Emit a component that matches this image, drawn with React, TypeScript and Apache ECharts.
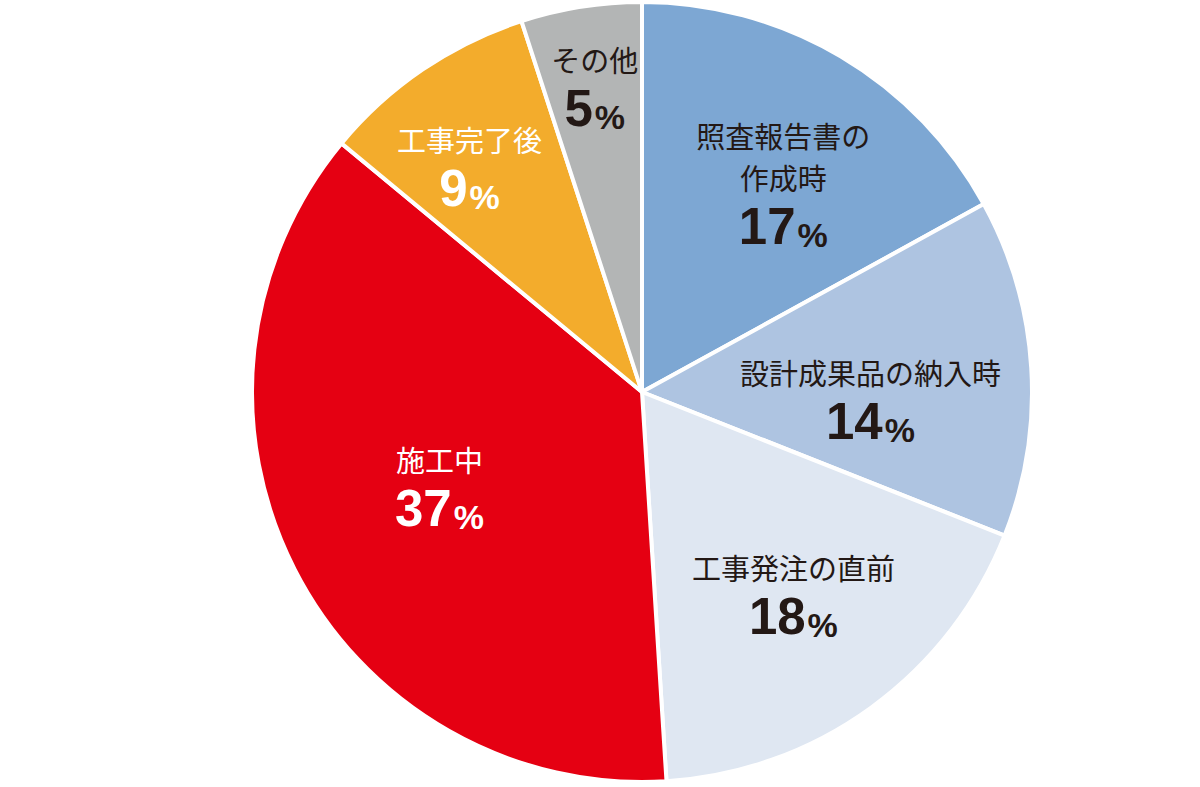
import React, { useEffect, useRef } from "react";
import * as echarts from "echarts";

const categories = ["照査報告書の\n作成時", "設計成果品の納入時", "工事発注の直前", "施工中", "工事完了後", "その他"];
const values = [17, 14, 18, 37, 9, 5];
const colors = ["#7DA7D3", "#AEC4E1", "#DFE7F2", "#E50012", "#F3AC2C", "#B3B5B5"];
const labelColors = ["#231815", "#231815", "#231815", "#ffffff", "#ffffff", "#231815"];
// label placement: [fraction of radius, angle in degrees clockwise from top]
const labelPlacement: [number, number][] = [
  [0.646, 34.1],
  [0.586, 91.8],
  [0.648, 143.2],
  [0.573, 245.0],
  [0.728, 322.6],
  [0.793, 351.2],
];

const W = 1200;
const H = 787;
const CX = 642;
const CY = 392;
const R = 390;

export default function App() {
  const ref = useRef<HTMLDivElement>(null);
  useEffect(() => {
    document.body.style.margin = "0";
    const chart = echarts.init(ref.current!, null, { renderer: "svg" });
    const data = categories.map((name, i) => ({
      name,
      value: values[i],
      itemStyle: { color: colors[i] },
      label: { color: labelColors[i] },
    }));
    chart.setOption({
      animation: false,
      backgroundColor: "#ffffff",
      series: [
        {
          type: "pie",
          center: [CX, CY],
          radius: [0, R],
          startAngle: 90,
          clockwise: true,
          data,
          itemStyle: { borderColor: "#ffffff", borderWidth: 4 },
          emphasis: { disabled: true },
          labelLine: { show: false },
          label: {
            show: true,
            position: "inside",
            align: "center",
            formatter: (p: any) => {
              const lines = String(p.name).split("\n").map((l: string) => `{n|${l}}`);
              return lines.join("\n") + `\n{v|${p.value}}{p|%}`;
            },
            rich: {
              n: {
                fontFamily: "Noto Sans CJK JP",
                fontSize: 29,
                lineHeight: 42,
                align: "center",
              },
              v: {
                fontFamily: "Liberation Sans",
                fontWeight: "bold",
                fontSize: 51,
                lineHeight: 54,
                verticalAlign: "bottom",
              },
              p: {
                fontFamily: "Liberation Sans",
                fontWeight: "bold",
                fontSize: 34,
                lineHeight: 50,
                verticalAlign: "bottom",
                padding: [0, 0, 0, 2],
              },
            },
          },
          labelLayout: (params: any) => {
            const pl = labelPlacement[params.dataIndex];
            const a = (pl[1] * Math.PI) / 180;
            return {
              x: CX + Math.sin(a) * pl[0] * R,
              y: CY - Math.cos(a) * pl[0] * R,
              align: "center",
              verticalAlign: "middle",
            };
          },
        },
      ],
    });
    return () => chart.dispose();
  }, []);
  return <div ref={ref} style={{ width: W, height: H }} />;
}
